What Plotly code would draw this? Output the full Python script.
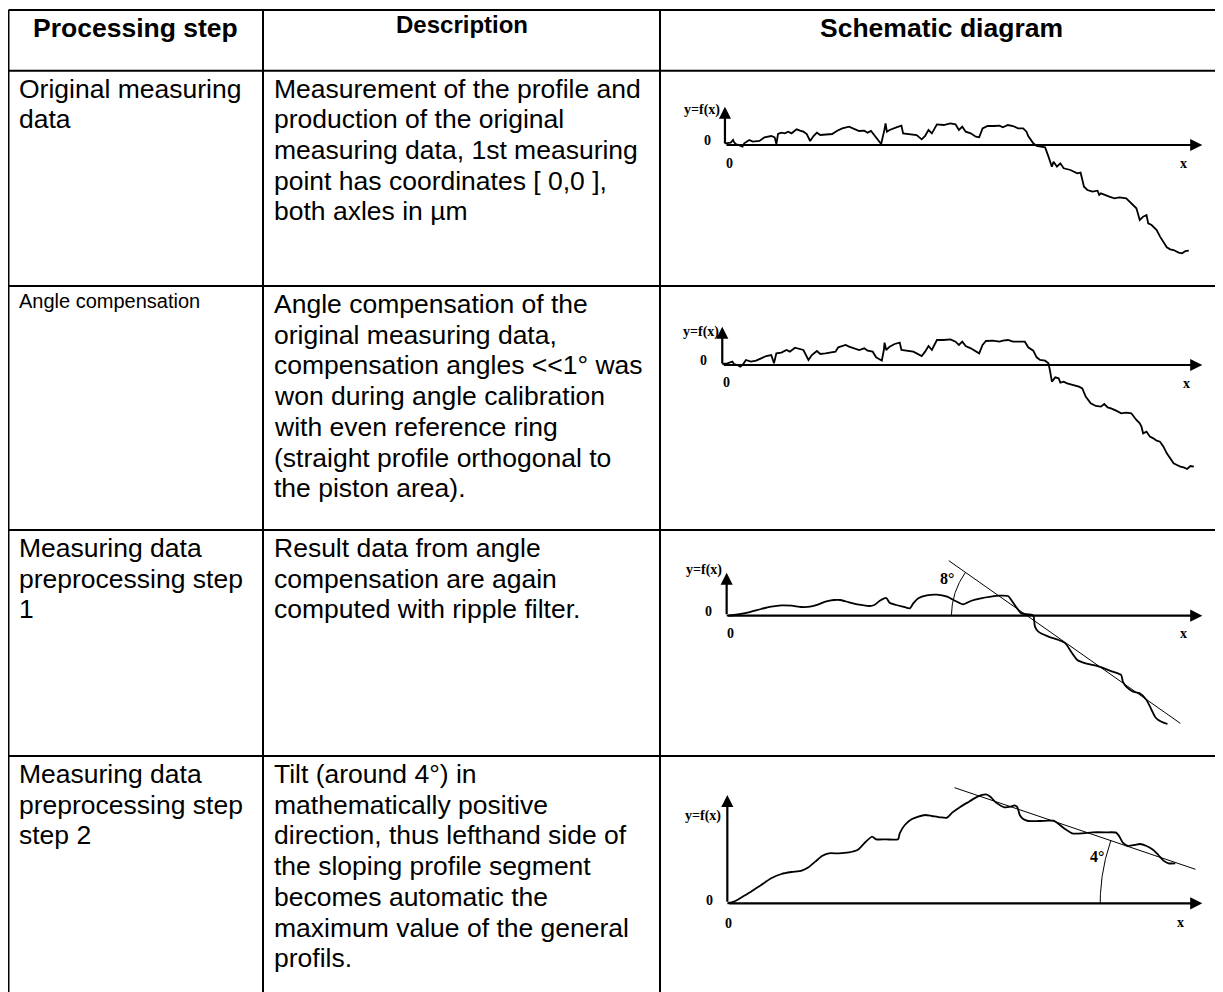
import numpy as np
import plotly.graph_objects as go

W, H = 1223, 992
OFF = 8  # page offset of the plot div (body margin)

# ---------------- table content ----------------
headers = ["Processing step", "Description", "Schematic diagram"]
step_lines = [
    ["Original measuring", "data"],
    ["Angle compensation"],
    ["Measuring data", "preprocessing step", "1"],
    ["Measuring data", "preprocessing step", "step 2"],
]
desc_lines = [
    ["Measurement of the profile and", "production of the original",
     "measuring data, 1st measuring", "point has coordinates [ 0,0 ],",
     "both axles in µm"],
    ["Angle compensation of the", "original measuring data,",
     "compensation angles &lt;&lt;1° was", "won during angle calibration",
     "with even reference ring", "(straight profile orthogonal to",
     "the piston area)."],
    ["Result data from angle", "compensation are again",
     "computed with ripple filter."],
    ["Tilt (around 4°) in", "mathematically positive",
     "direction, thus lefthand side of", "the sloping profile segment",
     "becomes automatic the", "maximum value of the general", "profils."],
]

# ---------------- profile data (schematic units, origin at [0,0]) ----------------
profile_original = [
    (0, 5), (17, 7), (24, 15), (27, 8), (32, 3), (42, 0), (52, -5), (57, 5), (72, 15), (82, 10),
    (102, 12), (117, 23), (137, 27), (147, 23), (152, 3), (157, 33), (167, 37), (177, 35),
    (187, 40), (197, 35), (212, 47), (222, 43), (232, 40), (242, 33), (252, 12), (262, 27),
    (272, 37), (282, 30), (297, 32), (317, 33), (332, 43), (347, 50), (367, 55), (382, 48),
    (397, 42), (412, 43), (422, 37), (432, 42), (442, 30), (452, 15), (462, 3), (472, 47),
    (475, 65), (479, 40), (487, 45), (507, 53), (522, 58), (527, 35), (547, 33), (567, 30),
    (582, 17), (592, 27), (602, 45), (612, 35), (627, 62), (647, 60), (667, 65), (682, 62),
    (692, 45), (702, 55), (712, 40), (727, 35), (742, 25), (752, 23), (762, 50), (777, 57),
    (797, 57), (812, 58), (822, 53), (837, 60), (852, 57), (867, 50), (882, 50), (892, 40),
    (897, 27), (912, 5), (922, -3), (937, -5), (947, -7), (957, -35), (967, -65), (972, -50),
    (982, -65), (992, -55), (1002, -70), (1022, -75), (1042, -85), (1052, -83), (1062, -125),
    (1072, -135), (1087, -140), (1102, -137), (1107, -150), (1112, -145), (1122, -150),
    (1137, -155), (1152, -160), (1167, -157), (1187, -160), (1202, -175), (1212, -185),
    (1217, -190), (1227, -225), (1237, -215), (1247, -210), (1252, -235), (1262, -240),
    (1277, -255), (1287, -275), (1297, -290), (1307, -307), (1317, -313), (1327, -315),
    (1342, -323), (1352, -325), (1362, -318), (1372, -317),
]
profile_compensated = [
    (0, 3), (15, 5), (30, 10), (35, 3), (45, 0), (53, -5), (60, 0), (70, 15), (85, 10),
    (100, 13), (115, 20), (130, 27), (145, 30), (153, 5), (160, 35), (175, 37), (190, 45),
    (200, 40), (215, 52), (230, 47), (240, 45), (255, 15), (265, 30), (280, 42), (290, 33),
    (305, 35), (320, 37), (335, 40), (343, 53), (355, 57), (365, 60), (375, 55), (390, 50),
    (405, 45), (420, 50), (430, 43), (445, 40), (455, 23), (465, 17), (472, 13), (478, 45),
    (480, 67), (485, 45), (495, 55), (510, 63), (525, 67), (530, 45), (545, 43), (565, 40),
    (575, 35), (590, 27), (600, 40), (610, 57), (620, 45), (635, 75), (655, 75), (675, 77),
    (690, 70), (700, 60), (710, 70), (720, 57), (735, 50), (745, 45), (760, 35), (770, 60),
    (780, 72), (800, 73), (820, 70), (830, 73), (845, 75), (860, 70), (875, 70), (895, 70),
    (905, 53), (920, 43), (930, 23), (940, 15), (955, 13), (965, 5), (970, -20), (975, -50),
    (985, -37), (995, -40), (1000, -53), (1010, -50), (1020, -55), (1040, -60), (1055, -65),
    (1065, -70), (1075, -95), (1090, -115), (1105, -123), (1120, -125), (1130, -117),
    (1140, -127), (1150, -130), (1165, -137), (1180, -145), (1195, -143), (1210, -145),
    (1225, -165), (1235, -175), (1240, -185), (1245, -205), (1255, -200), (1265, -215),
    (1275, -220), (1285, -227), (1295, -230), (1305, -245), (1315, -265), (1325, -280),
    (1335, -295), (1345, -300), (1355, -305), (1365, -307), (1375, -312), (1385, -303),
    (1395, -305),
]
profile_filtered = [
    (0, 0), (22, 2), (62, 9), (102, 20), (132, 27), (162, 31), (192, 30), (222, 26),
    (247, 27), (272, 34), (292, 42), (317, 47), (337, 47), (362, 40), (392, 33), (422, 29),
    (437, 32), (452, 44), (472, 53), (482, 39), (502, 32), (522, 27), (542, 22), (552, 37),
    (567, 52), (592, 61), (622, 63), (652, 57), (677, 44), (700, 34), (722, 44), (752, 52),
    (782, 57), (807, 60), (832, 59), (842, 47), (857, 25), (872, 7), (892, 4), (907, 1),
    (910, -18), (912, -33), (922, -48), (952, -63), (982, -73), (1002, -83), (1022, -113),
    (1037, -133), (1062, -143), (1102, -153), (1142, -168), (1167, -178), (1172, -198),
    (1182, -213), (1202, -228), (1222, -233), (1242, -253), (1257, -283), (1267, -303),
    (1277, -313), (1292, -321), (1304, -325),
]
profile_tilted = [
    (0, 0), (20, 5), (45, 20), (70, 35), (100, 55), (130, 75), (160, 88), (190, 94),
    (220, 98), (240, 108), (260, 125), (280, 142), (300, 150), (330, 150), (360, 153),
    (385, 160), (405, 180), (428, 200), (440, 192), (470, 192), (505, 192), (510, 210),
    (525, 235), (545, 252), (565, 260), (585, 265), (605, 262), (630, 258), (650, 257),
    (665, 272), (690, 290), (715, 305), (740, 320), (765, 327), (778, 320), (795, 302),
    (820, 288), (838, 290), (850, 294), (858, 288), (865, 265), (875, 253), (890, 247),
    (920, 247), (950, 248), (965, 248), (980, 238), (1000, 222), (1020, 210), (1050, 210),
    (1080, 213), (1120, 213), (1150, 212), (1160, 200), (1170, 182), (1185, 172),
    (1205, 175), (1220, 178), (1240, 172), (1260, 160), (1275, 145), (1290, 128),
    (1305, 120), (1325, 120),
]
fit_line_filtered = [(657, 165), (1342, -323)]
fit_line_tilted = [(672, 347), (1385, 102)]
angle_labels = ["8°", "4°"]

# ---------------- layout helpers (page pixels) ----------------
col_edges = [8.5, 263, 660, 1224]
row_edges = [10, 70.7, 286, 530, 756, 1000]
SX, SY = 2.958, 3.0   # schematic units per pixel


def fx(px):
    return (px - OFF) / W


def fy(py):
    return 1 - (py - OFF) / H


fig = go.Figure()
shapes = []
annotations = []

# table grid
for x in col_edges:
    shapes.append(dict(type="line", xref="paper", yref="paper", x0=fx(x), x1=fx(x),
                       y0=fy(row_edges[0]), y1=fy(row_edges[-1]),
                       line=dict(color="black", width=2)))
for y in row_edges[:-1]:
    shapes.append(dict(type="line", xref="paper", yref="paper", x0=fx(col_edges[0]),
                       x1=fx(col_edges[-1]), y0=fy(y), y1=fy(y),
                       line=dict(color="black", width=2)))

BODY = "Liberation Sans"
SERIF = "Liberation Serif"

# headers
hdr_sizes = [26.5, 24, 26.5]
hdr_y = [28, 25, 28]
hdr_cx = [135, 461.5, 941]
for i, h in enumerate(headers):
    annotations.append(dict(text="<b>%s</b>" % h, xref="paper", yref="paper",
                            x=fx(hdr_cx[i]), y=fy(hdr_y[i]),
                            xanchor="center", yanchor="middle", showarrow=False,
                            font=dict(family=BODY, size=hdr_sizes[i], color="black")))

LINE = 30.7
for r in range(4):
    top = row_edges[r + 1]
    size_step = 20 if r == 1 else 26.5
    for k, t in enumerate(step_lines[r]):
        annotations.append(dict(text=t, xref="paper", yref="paper", x=fx(17),
                                y=fy(top + 18 + k * LINE - (3 if r == 1 else 0)),
                                xanchor="left", yanchor="middle", showarrow=False,
                                font=dict(family=BODY, size=size_step, color="black")))
    for k, t in enumerate(desc_lines[r]):
        annotations.append(dict(text=t, xref="paper", yref="paper", x=fx(272),
                                y=fy(top + 18 + k * LINE),
                                xanchor="left", yanchor="middle", showarrow=False,
                                font=dict(family=BODY, size=26.5, color="black")))

# diagrams (origin position in page pixels)
diagrams = [
    dict(ox=724.96, oy=145.0, prof=profile_original, ytop=115, xend=1412, smooth=False,
         yfx=(-68, 105), z0=(-53, 13), z1=(12, -55), xl=(1357, -57)),
    dict(ox=722.26, oy=365.0, prof=profile_compensated, ytop=115, xend=1420, smooth=False,
         yfx=(-63, 98), z0=(-55, 13), z1=(13, -53), xl=(1372, -55)),
    dict(ox=726.65, oy=615.67, prof=profile_filtered, ytop=129, xend=1407, smooth=True,
         yfx=(-68, 137), z0=(-53, 12), z1=(12, -53), xl=(1352, -53),
         fit=fit_line_filtered, arc=((889, 0), 224), alabel=(652, 112), atext=angle_labels[0]),
    dict(ox=727.33, oy=903.33, prof=profile_tilted, ytop=325, xend=1405, smooth=True,
         yfx=(-72, 262), z0=(-52, 8), z1=(2, -60), xl=(1340, -58),
         fit=fit_line_tilted, arc=((1682, 0), 579), alabel=(1092, 142), atext=angle_labels[1]),
]

layout_axes = {}
for i, d in enumerate(diagrams):
    n = i + 1
    xa = "x" if n == 1 else "x%d" % n
    ya = "y" if n == 1 else "y%d" % n
    xl_px, xr_px = col_edges[2] + 2, 1222
    yt_px, yb_px = row_edges[i + 1] + 2, min(row_edges[i + 2] - 2, 998)
    layout_axes["xaxis" if n == 1 else "xaxis%d" % n] = dict(
        domain=[fx(xl_px), fx(xr_px)], range=[(xl_px - d["ox"]) * SX, (xr_px - d["ox"]) * SX],
        visible=False, anchor=ya, fixedrange=True)
    layout_axes["yaxis" if n == 1 else "yaxis%d" % n] = dict(
        domain=[max(fy(yb_px), 0), fy(yt_px)],
        range=[(d["oy"] - yb_px) * SY if fy(yb_px) >= 0 else (d["oy"] - (H + OFF)) * SY,
               (d["oy"] - yt_px) * SY],
        visible=False, anchor=xa, fixedrange=True)

    px_, py_ = zip(*d["prof"])
    line_style = dict(color="black", width=1.8)
    if d["smooth"]:
        line_style.update(shape="spline", smoothing=0.6)
    fig.add_trace(go.Scatter(x=px_, y=py_, mode="lines", xaxis=xa, yaxis=ya,
                             line=line_style, showlegend=False, hoverinfo="skip"))
    if "fit" in d:
        lx, ly = zip(*d["fit"])
        fig.add_trace(go.Scatter(x=lx, y=ly, mode="lines", xaxis=xa, yaxis=ya,
                                 line=dict(color="black", width=1), showlegend=False,
                                 hoverinfo="skip"))
        (cx, cy), rad = d["arc"]
        a_line = np.degrees(np.arctan2(ly[0] - ly[1], lx[0] - lx[1]))
        th = np.radians(np.linspace(a_line, 180, 40))
        fig.add_trace(go.Scatter(x=cx + rad * np.cos(th), y=cy + rad * np.sin(th), mode="lines",
                                 xaxis=xa, yaxis=ya, line=dict(color="black", width=1),
                                 showlegend=False, hoverinfo="skip"))
        annotations.append(dict(text="<b>%s</b>" % d["atext"], xref=xa, yref=ya,
                                x=d["alabel"][0], y=d["alabel"][1], showarrow=False,
                                font=dict(family=SERIF, size=16, color="black")))
    # axes arrows
    annotations.append(dict(x=0, y=d["ytop"], ax=0, ay=0, xref=xa, yref=ya, axref=xa, ayref=ya,
                            text="", showarrow=True, arrowhead=2, arrowsize=1.1,
                            arrowwidth=2.2, arrowcolor="black"))
    annotations.append(dict(x=d["xend"], y=0, ax=0, ay=0, xref=xa, yref=ya, axref=xa, ayref=ya,
                            text="", showarrow=True, arrowhead=2, arrowsize=1.1,
                            arrowwidth=2.2, arrowcolor="black"))
    for key, txt in (("yfx", "y=f(x)"), ("z0", "0"), ("z1", "0"), ("xl", "x")):
        annotations.append(dict(text="<b>%s</b>" % txt, xref=xa, yref=ya,
                                x=d[key][0], y=d[key][1], showarrow=False,
                                font=dict(family=SERIF, size=14, color="black")))

fig.update_layout(width=W, height=H, margin=dict(l=0, r=0, t=0, b=0),
                  paper_bgcolor="white", plot_bgcolor="white",
                  shapes=shapes, annotations=annotations, **layout_axes)
fig.write_html("out.html")
